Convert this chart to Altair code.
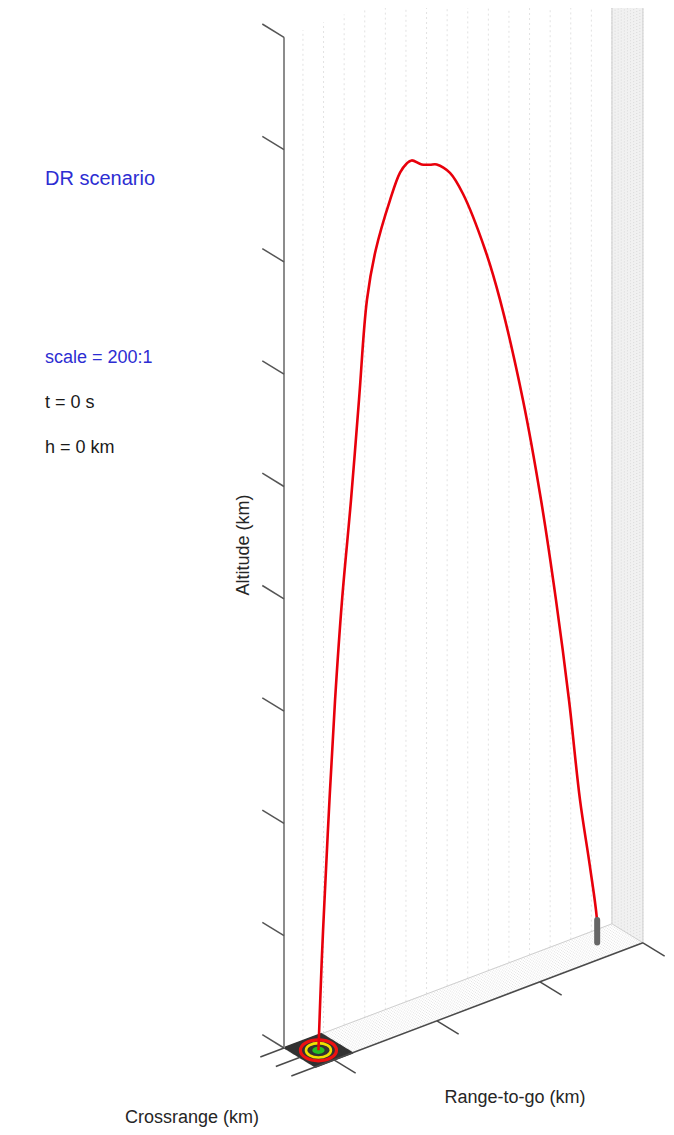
import altair as alt
import pandas as pd

# ---------------- data ----------------
RANGE_TICKS = [0, 100, 200, 300]          # Range-to-go (km)
CROSS_TICKS = [-10, 0, 10]                # Crossrange (km)
ALT_TICKS = [0, 10, 20, 30, 40, 50, 60, 70, 80, 90]   # Altitude (km)
RANGE_LIM = [-18.4, 300]
CROSS_LIM = [-10, 10]
ALT_TOP = 90
GRID_RANGE = list(range(0, 301, 20))

# trajectory from target (range-to-go 0) back to launch point
TRAJ_RANGE = [0, 3.2, 5.9, 10.7, 16.1, 22.9, 31.6, 39.4, 47.1, 55.5, 69.5, 79.2, 85.7,
              90.5, 100.2, 108.3, 114.8, 127.7, 140.3, 161.7, 176.3, 198.6, 216.1,
              230.6, 243.3, 253.9, 263.6, 270.4, 270.6]
TRAJ_ALT = [0, 7.9, 13.2, 21.9, 30.6, 39.3, 47.9, 56.6, 65.2, 69.3, 73.3, 75.4, 76.0,
            76.1, 75.4, 75.1, 74.9, 73.7, 71.4, 65.7, 60.7, 51.0, 41.5,
            32.1, 22.7, 13.5, 7.2, 2.2, 0]
LAUNCH_RANGE = 270.6
ROCKET_HEIGHT = 2.2
TARGET_HALF = 18.4

TEXTS = ["DR scenario", "scale = 200:1", "t = 0 s", "h = 0 km"]
LABELS = ["Altitude (km)", "Range-to-go (km)", "Crossrange (km)"]

# ---------------- projection (oblique 3D view) ----------------
OX, OY = 284, 1048
KRX, KRY = 1.03, -0.39
KCX, KCY = 1.55, 0.95
KH = 11.23
R0, C0 = RANGE_LIM[0], CROSS_LIM[0]
PX = f"{OX} + (datum.r - ({R0}))*{KRX} + (datum.cr - ({C0}))*{KCX}"
PY = f"{OY} + (datum.r - ({R0}))*({KRY}) + (datum.cr - ({C0}))*{KCY} - datum.h*{KH}"

W, H = 658, 1119
XS = alt.Scale(domain=[8, 8 + W], range=[0, W], nice=False, zero=False)
YS = alt.Scale(domain=[8, 8 + H], range=[0, H], nice=False, zero=False)
FONT = "Liberation Sans, Arial, Helvetica, sans-serif"


def segs(rows):
    out = []
    for i, (a, b) in enumerate(rows):
        out.append(dict(id=i, k=0, r=a[0], cr=a[1], h=a[2]))
        out.append(dict(id=i, k=1, r=b[0], cr=b[1], h=b[2]))
    return pd.DataFrame(out)


def lines(df, **mk):
    return (alt.Chart(df)
            .transform_calculate(X=PX, Y=PY)
            .mark_line(clip=True, **mk)
            .encode(x=alt.X("X:Q", scale=XS, axis=None),
                    y=alt.Y("Y:Q", scale=YS, axis=None),
                    detail="id:N", order="k:Q"))


layers = []

# right wall (range-to-go max) shaded
wall = pd.DataFrame({"r": [RANGE_LIM[1]] * 2, "cr": CROSS_LIM, "h": [0, 0]})
layers.append(alt.Chart(wall)
              .transform_calculate(X=PX, Y=PY)
              .transform_calculate(Y2=f"datum.Y - 130*{KH}")
              .mark_area(color="#f1f1f1", clip=True)
              .encode(x=alt.X("X:Q", scale=XS, axis=None),
                      y=alt.Y("Y:Q", scale=YS, axis=None), y2="Y2:Q"))
layers.append(lines(segs([((RANGE_LIM[1], c, 0), (RANGE_LIM[1], c, 130))
                          for c in range(-10, 11, 2)]),
                    color="#d9d9d9", strokeWidth=1, strokeDash=[1, 2]))

# floor texture
layers.append(lines(segs([((RANGE_LIM[0], c, 0), (RANGE_LIM[1], c, 0))
                          for c in range(-10, 11, 1)]),
                    color="#e2e2e2", strokeWidth=1, strokeDash=[1, 2]))

# back wall vertical grid
layers.append(lines(segs([((r, C0, 0), (r, C0, ALT_TOP)) for r in GRID_RANGE]),
                    color="#e2e2e2", strokeWidth=1, strokeDash=[2, 3]))

# box edges (light)
layers.append(lines(segs([((RANGE_LIM[0], C0, 0), (RANGE_LIM[1], C0, 0)),
                          ((RANGE_LIM[1], C0, 0), (RANGE_LIM[1], CROSS_LIM[1], 0)),
                          ((RANGE_LIM[1], C0, 0), (RANGE_LIM[1], C0, 130)),
                          ((RANGE_LIM[1], CROSS_LIM[1], 0), (RANGE_LIM[1], CROSS_LIM[1], 130))]),
                    color="#cfcfcf", strokeWidth=1))

# target square
layers.append(lines(segs([((-TARGET_HALF, c / 2, 0), (TARGET_HALF, c / 2, 0))
                          for c in range(-20, 21)]),
                    color="#333333", strokeWidth=2))

# axes
layers.append(lines(segs([((R0, C0, 0), (R0, C0, ALT_TOP))]),
                    color="#8c8c8c", strokeWidth=2))
layers.append(lines(segs([((R0, C0, h), (R0, C0 - 14, h)) for h in ALT_TICKS]),
                    color="#555555", strokeWidth=1.5))
layers.append(lines(segs([((R0, CROSS_LIM[1], 0), (RANGE_LIM[1], CROSS_LIM[1], 0))]),
                    color="#4a4a4a", strokeWidth=1.5))
layers.append(lines(segs([((r, CROSS_LIM[1], 0), (r, CROSS_LIM[1] + 14, 0)) for r in RANGE_TICKS]),
                    color="#4a4a4a", strokeWidth=1.5))
layers.append(lines(segs([((R0, c, 0), (R0 - 23, c, 0)) for c in CROSS_TICKS]),
                    color="#4a4a4a", strokeWidth=1.5))

# target rings
ELL = "M -1 0 A 1 0.58 0 1 1 1 0 A 1 0.58 0 1 1 -1 0 Z"
tgt = pd.DataFrame({"r": [0], "cr": [0], "h": [0]})


def ring(size, **mk):
    return (alt.Chart(tgt).transform_calculate(X=PX, Y=PY)
            .mark_point(shape=ELL, size=size, opacity=1, **mk)
            .encode(x=alt.X("X:Q", scale=XS, axis=None),
                    y=alt.Y("Y:Q", scale=YS, axis=None)))


layers.append(ring(1300, filled=False, stroke="#ee1111", strokeWidth=3.2))
layers.append(ring(620, filled=False, stroke="#f2e000", strokeWidth=2.6))
layers.append(ring(150, filled=True, fill="#22c022", strokeWidth=0))

# trajectory
traj = pd.DataFrame({"r": TRAJ_RANGE, "cr": [0] * len(TRAJ_RANGE), "h": TRAJ_ALT,
                     "k": list(range(len(TRAJ_RANGE))), "id": 0})
layers.append(alt.Chart(traj).transform_calculate(X=PX, Y=PY)
              .mark_line(color="#e8000b", strokeWidth=2.6, interpolate="catmull-rom", clip=True)
              .encode(x=alt.X("X:Q", scale=XS, axis=None),
                      y=alt.Y("Y:Q", scale=YS, axis=None), order="k:Q"))

# rocket
layers.append(lines(segs([((LAUNCH_RANGE, 0, 0.2), (LAUNCH_RANGE, 0, ROCKET_HEIGHT))]),
                    color="#666666", strokeWidth=6, strokeCap="round"))


# texts
def txt(s, x, y, size, color, angle=0, align="left"):
    mk = dict(font=FONT, fontSize=size, color=color, align=align, baseline="alphabetic")
    if angle:
        mk["angle"] = angle
    return (alt.Chart(pd.DataFrame({"t": [s]})).mark_text(**mk)
            .encode(text="t:N", x=alt.value(x), y=alt.value(y)))


BLUE = "#2d2dd2"
layers.append(txt(TEXTS[0], 37, 176.5, 20, BLUE))
layers.append(txt(TEXTS[1], 37, 355, 18, BLUE))
layers.append(txt(TEXTS[2], 37, 399.7, 18, "#1a1a1a"))
layers.append(txt(TEXTS[3], 37, 444.7, 18, "#1a1a1a"))
layers.append(txt(LABELS[0], 241, 537, 18, "#262626", angle=270, align="center"))
layers.append(txt(LABELS[1], 507, 1095, 18, "#262626", align="center"))
layers.append(txt(LABELS[2], 184, 1115, 18, "#262626", align="center"))

chart = (alt.layer(*layers)
         .properties(width=W, height=H, padding=0, autosize="none", background="white")
         .configure_view(stroke=None))

chart.save("out.html", embed_options={"renderer": "svg", "actions": False})
